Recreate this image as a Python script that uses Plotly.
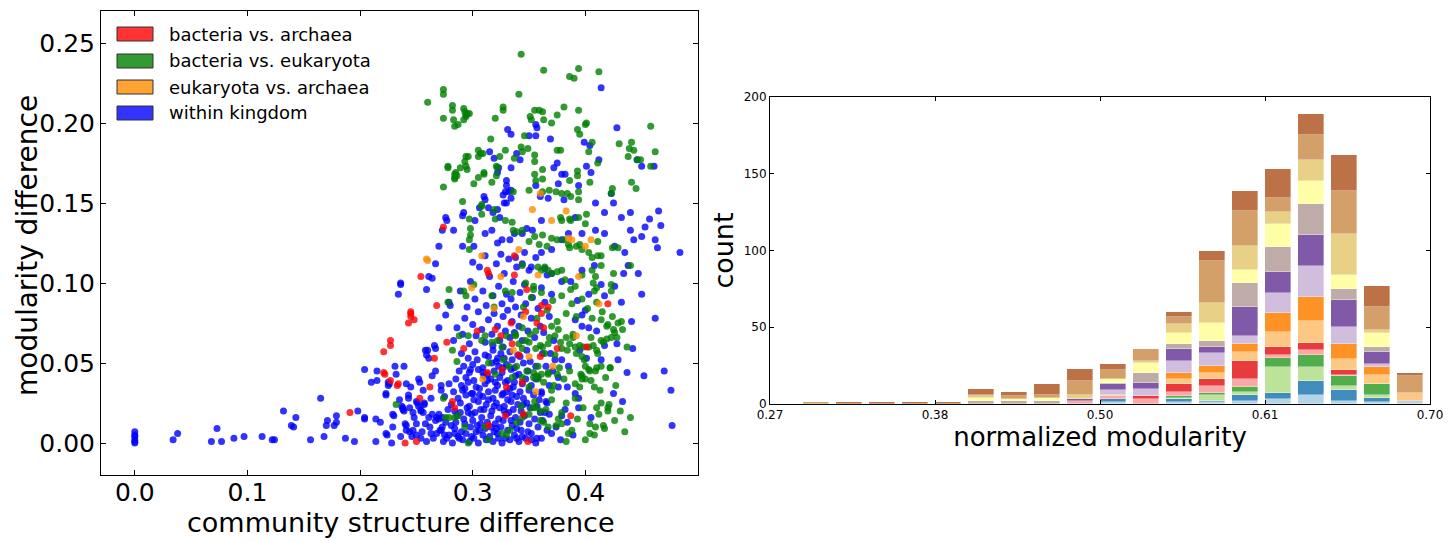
import plotly.graph_objects as go

W, H = 1453, 541

# ---------------- left panel: points (community structure diff, modularity diff)
bact_arch = [
    (0.191, 0.019), (0.221, 0.057), (0.221, 0.044), (0.222, 0.043), (0.227, 0.064), (0.227, 0.061),
    (0.227, 0.039), (0.234, 0.037), (0.233, 0.036), (0.240, 0.000), (0.243, 0.075), (0.245, 0.081),
    (0.245, 0.082), (0.245, 0.079), (0.248, 0.077), (0.254, 0.104), (0.253, 0.028), (0.250, 0.001),
    (0.262, 0.035), (0.268, 0.086), (0.266, 0.053), (0.274, 0.135), (0.337, 0.117), (0.387, 0.017),
    (0.420, 0.087), (0.313, 0.108), (0.314, 0.106), (0.337, 0.105), (0.348, 0.096), (0.361, 0.086),
    (0.367, 0.085), (0.363, 0.072), (0.361, 0.081), (0.334, 0.075), (0.320, 0.071), (0.304, 0.070),
    (0.277, 0.063), (0.292, 0.059), (0.325, 0.067), (0.347, 0.082), (0.360, 0.054), (0.341, 0.055),
    (0.335, 0.062), (0.326, 0.046), (0.344, 0.038), (0.313, 0.044), (0.282, 0.026), (0.284, 0.022),
    (0.314, 0.011), (0.329, 0.017), (0.345, 0.018), (0.349, 0.001), (0.330, 0.035), (0.375, 0.059),
    (0.401, 0.060), (0.357, 0.075),
]

bact_euk = [
    (0.260, 0.213), (0.274, 0.221), (0.274, 0.218), (0.274, 0.203), (0.282, 0.211), (0.282, 0.208),
    (0.283, 0.202), (0.284, 0.198), (0.287, 0.199), (0.292, 0.209), (0.293, 0.207), (0.294, 0.205),
    (0.295, 0.206), (0.297, 0.206), (0.292, 0.202), (0.294, 0.204), (0.316, 0.190), (0.320, 0.203),
    (0.327, 0.210), (0.327, 0.208), (0.343, 0.243), (0.341, 0.218), (0.363, 0.233), (0.386, 0.229),
    (0.390, 0.228), (0.394, 0.234), (0.412, 0.232), (0.355, 0.208), (0.359, 0.208), (0.362, 0.207),
    (0.351, 0.204), (0.352, 0.202), (0.363, 0.202), (0.375, 0.205), (0.381, 0.210), (0.394, 0.208),
    (0.370, 0.200), (0.346, 0.192), (0.343, 0.185), (0.344, 0.182), (0.349, 0.184), (0.393, 0.196),
    (0.395, 0.193), (0.400, 0.199), (0.401, 0.200), (0.406, 0.188), (0.403, 0.182), (0.378, 0.183),
    (0.375, 0.183), (0.355, 0.180), (0.355, 0.176), (0.458, 0.198), (0.430, 0.187), (0.441, 0.188),
    (0.439, 0.184), (0.443, 0.183), (0.438, 0.179), (0.462, 0.182), (0.458, 0.173), (0.446, 0.177),
    (0.449, 0.177), (0.411, 0.175),
    (0.294, 0.179), (0.295, 0.171), (0.293, 0.176), (0.294, 0.173), (0.296, 0.179), (0.289, 0.172),
    (0.305, 0.183), (0.305, 0.179), (0.307, 0.181), (0.309, 0.181), (0.278, 0.173), (0.278, 0.172),
    (0.284, 0.168), (0.284, 0.166), (0.285, 0.169), (0.284, 0.165), (0.286, 0.167), (0.301, 0.162),
    (0.305, 0.166), (0.310, 0.169), (0.310, 0.168), (0.321, 0.173), (0.321, 0.167), (0.322, 0.172),
    (0.324, 0.179), (0.337, 0.178), (0.329, 0.183), (0.355, 0.168), (0.356, 0.164), (0.362, 0.171),
    (0.362, 0.165), (0.393, 0.170), (0.393, 0.167), (0.386, 0.164), (0.404, 0.163),
    (0.297, 0.140), (0.298, 0.134), (0.298, 0.130), (0.297, 0.127), (0.297, 0.121), (0.308, 0.148),
    (0.308, 0.143), (0.319, 0.146), (0.320, 0.140), (0.329, 0.139), (0.335, 0.138), (0.336, 0.133),
    (0.339, 0.132), (0.344, 0.133), (0.350, 0.126), (0.355, 0.129), (0.359, 0.124), (0.362, 0.130),
    (0.366, 0.123), (0.370, 0.128), (0.375, 0.127), (0.381, 0.127), (0.385, 0.124), (0.386, 0.122),
    (0.392, 0.123), (0.395, 0.124), (0.397, 0.121), (0.403, 0.119), (0.411, 0.117), (0.411, 0.126),
    (0.406, 0.116), (0.414, 0.117), (0.424, 0.122), (0.429, 0.122), (0.378, 0.141), (0.379, 0.139),
    (0.386, 0.140), (0.387, 0.139), (0.394, 0.141), (0.400, 0.137), (0.401, 0.143), (0.441, 0.163),
    (0.445, 0.159), (0.424, 0.159), (0.423, 0.156), (0.362, 0.157), (0.368, 0.158), (0.374, 0.157),
    (0.379, 0.156), (0.384, 0.156), (0.387, 0.154), (0.394, 0.152), (0.394, 0.157), (0.274, 0.160),
    (0.291, 0.151), (0.317, 0.163), (0.308, 0.149), (0.350, 0.158), (0.336, 0.157),
    (0.279, 0.096), (0.278, 0.088), (0.292, 0.095), (0.294, 0.092), (0.301, 0.099), (0.317, 0.092),
    (0.319, 0.085), (0.329, 0.095), (0.335, 0.094), (0.344, 0.111), (0.347, 0.100), (0.354, 0.098),
    (0.354, 0.096), (0.358, 0.110), (0.361, 0.108), (0.364, 0.110), (0.367, 0.108), (0.370, 0.106),
    (0.375, 0.107), (0.379, 0.108), (0.382, 0.102), (0.387, 0.096), (0.391, 0.098), (0.397, 0.105),
    (0.406, 0.108), (0.409, 0.104), (0.410, 0.097), (0.414, 0.111), (0.407, 0.100), (0.408, 0.095),
    (0.425, 0.106), (0.423, 0.099), (0.423, 0.095), (0.440, 0.111),
    (0.282, 0.058), (0.286, 0.051), (0.288, 0.067), (0.296, 0.067), (0.308, 0.064), (0.311, 0.067),
    (0.317, 0.063), (0.322, 0.064), (0.326, 0.060), (0.330, 0.067), (0.338, 0.067), (0.341, 0.062),
    (0.344, 0.059), (0.347, 0.064), (0.351, 0.068), (0.356, 0.059), (0.360, 0.061), (0.364, 0.056),
    (0.367, 0.062), (0.370, 0.073), (0.373, 0.067), (0.376, 0.071), (0.379, 0.059), (0.383, 0.066),
    (0.386, 0.062), (0.389, 0.066), (0.391, 0.060), (0.392, 0.056), (0.397, 0.054), (0.398, 0.060),
    (0.403, 0.060), (0.407, 0.061), (0.410, 0.058), (0.414, 0.064), (0.419, 0.065), (0.423, 0.066),
    (0.426, 0.069), (0.420, 0.074), (0.425, 0.071), (0.429, 0.075), (0.432, 0.076), (0.414, 0.077),
    (0.410, 0.047), (0.414, 0.048), (0.422, 0.047), (0.404, 0.045), (0.397, 0.042), (0.400, 0.040),
    (0.403, 0.046), (0.395, 0.035), (0.391, 0.028), (0.397, 0.040), (0.408, 0.035), (0.410, 0.022),
    (0.414, 0.025), (0.420, 0.022), (0.420, 0.020), (0.416, 0.011), (0.409, 0.010), (0.404, 0.006),
    (0.400, 0.002), (0.383, 0.001), (0.385, 0.006), (0.376, 0.015), (0.379, 0.012), (0.367, 0.010),
    (0.363, 0.013), (0.360, 0.020), (0.356, 0.022), (0.353, 0.022), (0.344, 0.016), (0.339, 0.013),
    (0.333, 0.008), (0.330, 0.005), (0.326, 0.006), (0.314, 0.002), (0.311, 0.010), (0.296, 0.000),
    (0.293, 0.010), (0.287, 0.017), (0.284, 0.016), (0.279, 0.016), (0.276, 0.016), (0.274, 0.028),
    (0.232, 0.024),
    (0.314, 0.050), (0.320, 0.043), (0.327, 0.052), (0.332, 0.048), (0.335, 0.041), (0.339, 0.048),
    (0.344, 0.041), (0.350, 0.035), (0.354, 0.044), (0.357, 0.042), (0.358, 0.040), (0.361, 0.043),
    (0.367, 0.043), (0.370, 0.033), (0.375, 0.043),
    (0.345, 0.085), (0.352, 0.091), (0.357, 0.078), (0.361, 0.094), (0.366, 0.083), (0.371, 0.089),
    (0.375, 0.076), (0.379, 0.092), (0.383, 0.081), (0.388, 0.087), (0.392, 0.079), (0.397, 0.090),
    (0.402, 0.084), (0.406, 0.078), (0.410, 0.088), (0.415, 0.082), (0.419, 0.073), (0.424, 0.079),
    (0.428, 0.066), (0.433, 0.071), (0.437, 0.060),
    (0.348, 0.045), (0.354, 0.041), (0.358, 0.048), (0.363, 0.038), (0.367, 0.044), (0.372, 0.036),
    (0.377, 0.047), (0.381, 0.040), (0.386, 0.045), (0.391, 0.037), (0.396, 0.043), (0.400, 0.048),
    (0.405, 0.039), (0.409, 0.045), (0.413, 0.033), (0.418, 0.041), (0.422, 0.047), (0.427, 0.036),
    (0.343, 0.023), (0.350, 0.018), (0.355, 0.026), (0.360, 0.014), (0.365, 0.021), (0.370, 0.027),
    (0.374, 0.011), (0.379, 0.019), (0.383, 0.025), (0.388, 0.008), (0.393, 0.015), (0.398, 0.022),
    (0.404, 0.012), (0.408, 0.005), (0.412, 0.018), (0.417, 0.009), (0.421, 0.024), (0.426, 0.014),
    (0.431, 0.020), (0.435, 0.007), (0.440, 0.016),
    (0.338, 0.068), (0.344, 0.072), (0.350, 0.063), (0.356, 0.070), (0.362, 0.060), (0.368, 0.066),
    (0.373, 0.055), (0.378, 0.063), (0.384, 0.058), (0.389, 0.068), (0.395, 0.061), (0.399, 0.052),
    (0.405, 0.066), (0.411, 0.056), (0.416, 0.063),
]

euk_arch = [
    (0.259, 0.115), (0.260, 0.114), (0.360, 0.156), (0.353, 0.146), (0.370, 0.139), (0.383, 0.145),
    (0.385, 0.128), (0.388, 0.127), (0.405, 0.127), (0.400, 0.123), (0.308, 0.117), (0.341, 0.121),
    (0.325, 0.104), (0.358, 0.105), (0.394, 0.104), (0.412, 0.087), (0.299, 0.097), (0.350, 0.054),
    (0.336, 0.058), (0.309, 0.040), (0.371, 0.048), (0.356, 0.032), (0.319, 0.084), (0.392, 0.067),
    (0.345, 0.079),
]

within = [
    # sparse tail
    (0.000, 0.007), (0.000, 0.005), (0.000, 0.004), (0.000, 0.002), (0.000, 0.001), (0.000, 0.000),
    (0.034, 0.002), (0.038, 0.006), (0.068, 0.001), (0.073, 0.009), (0.077, 0.001), (0.088, 0.003),
    (0.097, 0.004), (0.113, 0.004), (0.122, 0.002), (0.124, 0.002), (0.132, 0.020), (0.139, 0.011),
    (0.141, 0.010), (0.143, 0.016), (0.156, 0.002), (0.165, 0.028), (0.168, 0.004), (0.170, 0.011),
    (0.171, 0.014), (0.177, 0.011), (0.179, 0.017), (0.179, 0.013), (0.187, 0.003), (0.195, 0.001),
    (0.198, 0.020), (0.204, 0.016), (0.204, 0.015), (0.204, 0.046), (0.210, 0.038), (0.215, 0.045),
    (0.215, 0.039), (0.214, 0.015), (0.218, 0.013), (0.214, 0.001),
    # rising edge
    (0.223, 0.031), (0.223, 0.030), (0.223, 0.006), (0.224, 0.005), (0.225, 0.038), (0.226, 0.037),
    (0.225, 0.036), (0.228, 0.000), (0.229, 0.018), (0.230, 0.017), (0.229, 0.010), (0.231, 0.048),
    (0.232, 0.043), (0.234, 0.093), (0.236, 0.100), (0.236, 0.099), (0.239, 0.048), (0.237, 0.023),
    (0.238, 0.021), (0.239, 0.020), (0.241, 0.037), (0.241, 0.011), (0.241, 0.008), (0.243, 0.028),
    (0.245, 0.035), (0.252, 0.040), (0.253, 0.038), (0.252, 0.023), (0.254, 0.021), (0.256, 0.019),
    (0.257, 0.025), (0.250, 0.012), (0.246, 0.004), (0.248, 0.016), (0.259, 0.096), (0.261, 0.104),
    (0.264, 0.103), (0.258, 0.058), (0.260, 0.058), (0.267, 0.059), (0.259, 0.055), (0.261, 0.053),
    (0.266, 0.061), (0.270, 0.072), (0.272, 0.036), (0.272, 0.033), (0.262, 0.010), (0.265, 0.003),
    (0.259, 0.001), (0.268, 0.016), (0.263, 0.028), (0.255, 0.007), (0.267, 0.045), (0.264, 0.042),
    (0.256, 0.033),
    (0.235, 0.027), (0.238, 0.022), (0.243, 0.030), (0.244, 0.022), (0.247, 0.019), (0.250, 0.026),
    (0.251, 0.025), (0.254, 0.020), (0.257, 0.024), (0.258, 0.012), (0.261, 0.016), (0.264, 0.018),
    (0.267, 0.014), (0.270, 0.018), (0.270, 0.015), (0.273, 0.010), (0.275, 0.005), (0.272, 0.008),
    (0.268, 0.006), (0.263, 0.006), (0.254, 0.003), (0.250, 0.005), (0.247, 0.008), (0.244, 0.007),
    (0.240, 0.012), (0.236, 0.004),
    # dense core
    (0.274, 0.001), (0.282, 0.000), (0.291, 0.002), (0.297, 0.001), (0.305, 0.000), (0.312, 0.002),
    (0.318, 0.001), (0.326, 0.000), (0.333, 0.002), (0.341, 0.001), (0.347, 0.003), (0.356, 0.000),
    (0.279, 0.005), (0.287, 0.004), (0.294, 0.006), (0.301, 0.003), (0.309, 0.005), (0.315, 0.004),
    (0.322, 0.006), (0.329, 0.003), (0.337, 0.005), (0.344, 0.004), (0.352, 0.006), (0.361, 0.003),
    (0.271, 0.008), (0.284, 0.009), (0.290, 0.007), (0.298, 0.010), (0.306, 0.008), (0.311, 0.009),
    (0.319, 0.007), (0.325, 0.010), (0.331, 0.008), (0.339, 0.009), (0.349, 0.007), (0.358, 0.010),
    (0.366, 0.008),
    (0.276, 0.013), (0.281, 0.011), (0.293, 0.012), (0.300, 0.014), (0.304, 0.011), (0.313, 0.013),
    (0.320, 0.012), (0.327, 0.014), (0.335, 0.011), (0.342, 0.013), (0.350, 0.012), (0.362, 0.014),
    (0.273, 0.016), (0.286, 0.017), (0.292, 0.015), (0.299, 0.018), (0.308, 0.016), (0.316, 0.017),
    (0.323, 0.015), (0.330, 0.018), (0.338, 0.016), (0.346, 0.017), (0.355, 0.015), (0.368, 0.018),
    (0.278, 0.021), (0.284, 0.020), (0.295, 0.022), (0.302, 0.019), (0.310, 0.021), (0.317, 0.020),
    (0.324, 0.022), (0.332, 0.019), (0.336, 0.021), (0.343, 0.020), (0.351, 0.022), (0.360, 0.019),
    (0.281, 0.024), (0.289, 0.025), (0.297, 0.023), (0.305, 0.026), (0.312, 0.024), (0.321, 0.025),
    (0.328, 0.023), (0.334, 0.026), (0.340, 0.024), (0.348, 0.025), (0.357, 0.023), (0.365, 0.026),
    (0.275, 0.029), (0.287, 0.028), (0.294, 0.030), (0.301, 0.027), (0.309, 0.029), (0.318, 0.028),
    (0.326, 0.030), (0.331, 0.027), (0.339, 0.029), (0.345, 0.028), (0.354, 0.030),
    (0.283, 0.032), (0.291, 0.033), (0.299, 0.031), (0.306, 0.034), (0.314, 0.032), (0.320, 0.033),
    (0.327, 0.031), (0.333, 0.034), (0.342, 0.032), (0.350, 0.033), (0.361, 0.031),
    (0.279, 0.037), (0.290, 0.036), (0.296, 0.038), (0.303, 0.035), (0.311, 0.037), (0.322, 0.036),
    (0.329, 0.038), (0.336, 0.035), (0.344, 0.037), (0.352, 0.036),
    (0.285, 0.040), (0.294, 0.041), (0.301, 0.039), (0.310, 0.042), (0.316, 0.040), (0.324, 0.041),
    (0.331, 0.039), (0.338, 0.042), (0.347, 0.040), (0.358, 0.041),
    (0.288, 0.045), (0.297, 0.044), (0.305, 0.046), (0.313, 0.043), (0.319, 0.045), (0.326, 0.044),
    (0.334, 0.046), (0.341, 0.043), (0.349, 0.045),
    (0.292, 0.048), (0.300, 0.049), (0.309, 0.047), (0.317, 0.050), (0.323, 0.048), (0.330, 0.049),
    (0.337, 0.047), (0.345, 0.050), (0.356, 0.048),
    (0.296, 0.053), (0.304, 0.052), (0.314, 0.054), (0.321, 0.051), (0.328, 0.053), (0.335, 0.052),
    (0.342, 0.054), (0.351, 0.051),
    (0.290, 0.056), (0.302, 0.057), (0.311, 0.055), (0.318, 0.058), (0.325, 0.056), (0.333, 0.057),
    (0.340, 0.055), (0.348, 0.058), (0.362, 0.056),
    (0.288, 0.003), (0.303, 0.007), (0.316, 0.010), (0.323, 0.003), (0.328, 0.020), (0.314, 0.027),
    (0.307, 0.021), (0.296, 0.019), (0.300, 0.031), (0.320, 0.038), (0.335, 0.030), (0.339, 0.003),
    (0.285, 0.013), (0.309, 0.044), (0.327, 0.047),
    (0.277, 0.003), (0.284, 0.006), (0.299, 0.004), (0.307, 0.012), (0.321, 0.009), (0.334, 0.014),
    (0.343, 0.008), (0.352, 0.002), (0.289, 0.019), (0.306, 0.030), (0.319, 0.023), (0.330, 0.032),
    (0.345, 0.024), (0.293, 0.034), (0.313, 0.039), (0.337, 0.038), (0.298, 0.046), (0.322, 0.053),
    # above the core
    (0.276, 0.080), (0.279, 0.088), (0.280, 0.086), (0.283, 0.064), (0.286, 0.072), (0.289, 0.095),
    (0.291, 0.068), (0.293, 0.078), (0.295, 0.085), (0.297, 0.062), (0.298, 0.101), (0.300, 0.074),
    (0.302, 0.090), (0.303, 0.067), (0.305, 0.082), (0.306, 0.110), (0.308, 0.071), (0.309, 0.095),
    (0.311, 0.063), (0.312, 0.086), (0.314, 0.077), (0.315, 0.104), (0.317, 0.068), (0.318, 0.092),
    (0.319, 0.081), (0.321, 0.112), (0.322, 0.073), (0.323, 0.098), (0.324, 0.064), (0.326, 0.087),
    (0.327, 0.079), (0.328, 0.106), (0.329, 0.070), (0.330, 0.093), (0.331, 0.083), (0.332, 0.115),
    (0.333, 0.066), (0.334, 0.090), (0.335, 0.076), (0.336, 0.101), (0.337, 0.069), (0.338, 0.085),
    (0.339, 0.110), (0.341, 0.073), (0.342, 0.094), (0.343, 0.080), (0.344, 0.064), (0.346, 0.099),
    (0.347, 0.087), (0.349, 0.070), (0.350, 0.108), (0.352, 0.078), (0.353, 0.091), (0.355, 0.066),
    (0.356, 0.116), (0.358, 0.084), (0.360, 0.073), (0.361, 0.097), (0.363, 0.069), (0.364, 0.088),
    (0.366, 0.105), (0.368, 0.079), (0.370, 0.093), (0.372, 0.064), (0.325, 0.118), (0.311, 0.117),
    (0.300, 0.113), (0.346, 0.119), (0.318, 0.061), (0.327, 0.060),
    # upper spread
    (0.350, 0.192), (0.356, 0.199), (0.357, 0.197), (0.356, 0.192), (0.369, 0.190), (0.323, 0.172),
    (0.322, 0.169), (0.334, 0.172), (0.330, 0.164), (0.330, 0.161), (0.329, 0.157), (0.327, 0.155),
    (0.332, 0.157), (0.334, 0.158), (0.334, 0.153), (0.328, 0.150), (0.330, 0.150), (0.322, 0.146),
    (0.324, 0.141), (0.318, 0.144), (0.314, 0.147), (0.310, 0.154), (0.311, 0.152), (0.306, 0.147),
    (0.302, 0.139), (0.292, 0.144), (0.291, 0.142), (0.276, 0.141), (0.277, 0.139), (0.273, 0.133),
    (0.270, 0.123), (0.267, 0.112), (0.283, 0.133), (0.291, 0.123), (0.301, 0.123), (0.311, 0.131),
    (0.317, 0.133), (0.322, 0.125), (0.326, 0.127), (0.333, 0.127), (0.337, 0.131), (0.344, 0.131),
    (0.348, 0.134), (0.353, 0.133), (0.356, 0.161), (0.360, 0.154), (0.361, 0.139), (0.367, 0.153),
    (0.372, 0.172), (0.375, 0.175), (0.379, 0.168), (0.382, 0.168), (0.376, 0.162), (0.381, 0.152),
    (0.394, 0.161), (0.401, 0.173), (0.399, 0.188), (0.404, 0.186), (0.405, 0.169), (0.412, 0.177),
    (0.414, 0.222), (0.423, 0.156), (0.425, 0.150), (0.432, 0.141), (0.440, 0.144), (0.440, 0.133),
    (0.443, 0.127), (0.450, 0.129), (0.453, 0.135), (0.457, 0.140), (0.465, 0.145), (0.467, 0.136),
    (0.462, 0.127), (0.464, 0.122), (0.450, 0.173), (0.461, 0.173), (0.446, 0.177), (0.428, 0.197),
    (0.409, 0.150), (0.417, 0.144), (0.409, 0.133), (0.417, 0.131), (0.426, 0.123), (0.435, 0.119),
    (0.391, 0.141), (0.397, 0.131), (0.385, 0.131), (0.379, 0.127), (0.370, 0.121), (0.361, 0.119),
    (0.352, 0.110), (0.344, 0.112), (0.338, 0.116), (0.484, 0.119), (0.331, 0.196), (0.334, 0.193),
    (0.339, 0.181), (0.342, 0.177), (0.315, 0.182), (0.319, 0.178),
    # right side
    (0.470, 0.045), (0.476, 0.033), (0.477, 0.011), (0.462, 0.078), (0.450, 0.093), (0.442, 0.059),
    (0.441, 0.076), (0.433, 0.026), (0.432, 0.088), (0.417, 0.061), (0.414, 0.052), (0.428, 0.062),
    (0.410, 0.070), (0.403, 0.072), (0.397, 0.073), (0.395, 0.058), (0.401, 0.053), (0.394, 0.028),
    (0.394, 0.022), (0.391, 0.031), (0.384, 0.035), (0.376, 0.041), (0.376, 0.035), (0.379, 0.017),
    (0.382, 0.021), (0.378, 0.002), (0.374, 0.010), (0.370, 0.006), (0.364, 0.019), (0.366, 0.025),
    (0.361, 0.032), (0.368, 0.036), (0.371, 0.045), (0.373, 0.052), (0.379, 0.052), (0.385, 0.048),
    (0.391, 0.077), (0.397, 0.080), (0.400, 0.083), (0.393, 0.089), (0.403, 0.093), (0.414, 0.099),
    (0.417, 0.092), (0.426, 0.098), (0.434, 0.106), (0.438, 0.111), (0.447, 0.106), (0.408, 0.111),
    (0.397, 0.108), (0.387, 0.101), (0.379, 0.101), (0.370, 0.106), (0.364, 0.109), (0.452, 0.042),
    (0.437, 0.044), (0.425, 0.031), (0.429, 0.052), (0.405, 0.016), (0.389, 0.005), (0.384, 0.013),
    (0.357, 0.003), (0.365, 0.048), (0.369, 0.056), (0.356, 0.040), (0.359, 0.027),
]

pair_names = ["bacteria vs. archaea", "bacteria vs. eukaryota",
              "eukaryota vs. archaea", "within kingdom"]
pair_colors = ["#ff0000", "#008000", "#ff8c00", "#0000ff"]

# ---------------- right panel: stacked histogram of normalized modularity
bin_pos = list(range(20))
bin_tickpos = [0, 5, 10, 15, 20]
bin_ticktext = ["0.27", "0.38", "0.50", "0.61", "0.70"]

# one list per colour band, bottom to top of the stack
band_light_blue = [0, 0, 0, 0, 0, 0, 0, 0, 0, 0, 1, 0, 1, 1, 2, 3, 6, 2, 1, 2]
band_blue = [0, 0, 0, 0, 0, 0, 0, 0, 0, 0, 2, 0, 2, 1, 4, 4, 9, 7, 3, 0]
band_light_green = [0, 0, 0, 0, 0, 0, 0, 0, 0, 0, 0, 0, 1, 4, 2, 17, 9, 3, 2, 0]
band_green = [0, 0, 0, 0, 0, 0, 0, 0, 0, 0, 0, 0, 1, 1, 3, 6, 8, 6, 7, 0]
band_pink = [0, 0, 0, 0, 0, 0, 0, 0, 0, 2, 2, 3, 3, 5, 5, 2, 3, 1, 0, 0]
band_red = [0, 0, 0, 0, 0, 0, 0, 0, 0, 0, 0, 2, 5, 4, 12, 5, 5, 3, 0, 0]
band_light_orange = [0, 0, 0, 0, 0, 0, 0, 0, 0, 0, 1, 0, 3, 4, 6, 10, 14, 7, 6, 5]
band_orange = [0, 0, 0, 0, 0, 0, 0, 0, 0, 0, 0, 0, 4, 5, 5, 12, 16, 10, 5, 0]
band_lavender = [0, 0, 0, 0, 0, 0, 0, 0, 0, 0, 3, 5, 8, 8, 5, 13, 20, 11, 2, 0]
band_purple = [0, 0, 0, 0, 0, 0, 0, 0, 0, 1, 4, 4, 8, 4, 19, 14, 20, 18, 8, 0]
band_mauve = [0, 0, 0, 0, 0, 0, 2, 2, 2, 0, 1, 6, 3, 4, 16, 16, 20, 7, 3, 0]
band_yellow = [0, 0, 0, 0, 0, 0, 2, 1, 2, 0, 2, 7, 7, 12, 8, 15, 15, 9, 9, 0]
band_gold = [0, 0, 0, 0, 0, 0, 1, 0, 0, 3, 0, 1, 6, 13, 16, 8, 14, 27, 2, 0]
band_tan = [0, 1, 0, 0, 0, 0, 1, 2, 2, 9, 6, 8, 5, 27, 23, 9, 16, 28, 15, 11]
band_brown = [0, 0, 1, 1, 1, 1, 4, 3, 7, 8, 4, 0, 3, 7, 13, 19, 14, 23, 14, 2]

bands = [band_light_blue, band_blue, band_light_green, band_green, band_pink, band_red,
         band_light_orange, band_orange, band_lavender, band_purple, band_mauve,
         band_yellow, band_gold, band_tan, band_brown]
band_colors = ["#a6cee3", "#1f78b4", "#b2df8a", "#33a02c", "#fb9a99", "#e31a1c",
               "#fdbf6f", "#ff7f00", "#cab2d6", "#6a3d9a", "#b49e99",
               "#ffff99", "#e5c873", "#cb904e", "#b15928"]

FONT = "DejaVu Sans"

fig = go.Figure()

# scatter, blue first so the between-kingdom pairs sit on top
for idx in [3, 1, 0, 2]:
    pts = [bact_arch, bact_euk, euk_arch, within][idx]
    fig.add_trace(go.Scatter(
        x=[p[0] for p in pts], y=[p[1] for p in pts],
        mode="markers", name=pair_names[idx], showlegend=False,
        marker=dict(size=7, color=pair_colors[idx], opacity=0.8, line=dict(width=0)),
        xaxis="x", yaxis="y",
    ))

for counts, col in zip(bands, band_colors):
    fig.add_trace(go.Bar(
        x=bin_pos, y=[c if c else None for c in counts],
        offset=0, width=0.8, opacity=0.85, showlegend=False,
        marker=dict(color=col, line=dict(color="rgba(255,255,255,0.45)", width=0.8)),
        xaxis="x2", yaxis="y2",
    ))

axis_common = dict(showline=True, linecolor="black", linewidth=1, mirror="ticks",
                   ticks="inside", tickcolor="black", showgrid=False, zeroline=False,
                   automargin=False)

fig.update_layout(
    template="none",
    width=W, height=H,
    margin=dict(l=0, r=0, t=0, b=0),
    paper_bgcolor="white", plot_bgcolor="white",
    barmode="stack", bargap=0,
    font=dict(family=FONT, color="black"),
    xaxis=dict(axis_common, domain=[101 / W, 698 / W], range=[-0.03, 0.5], anchor="y",
               tickvals=[0, 0.1, 0.2, 0.3, 0.4], tickformat=".1f", ticklen=5,
               tickfont=dict(size=25), ticklabelstandoff=-5),
    yaxis=dict(axis_common, domain=[1 - 475 / H, 1 - 11 / H], range=[-0.02, 0.27], anchor="x",
               tickvals=[0, 0.05, 0.1, 0.15, 0.2, 0.25], tickformat=".2f", ticklen=5,
               tickfont=dict(size=25)),
    xaxis2=dict(axis_common, domain=[770 / W, 1430 / W], range=[0, 20], anchor="y2",
                tickvals=bin_tickpos, ticktext=bin_ticktext, ticklen=4,
                tickfont=dict(size=12),
                title=dict(text="normalized modularity", font=dict(size=26), standoff=2)),
    yaxis2=dict(axis_common, domain=[1 - 404 / H, 1 - 97 / H], range=[0, 200], anchor="x2",
                tickvals=[0, 50, 100, 150, 200], ticklen=4,
                tickfont=dict(size=12),
                title=dict(text="count", font=dict(size=27), standoff=2)),
)

# axis titles of the scatter panel, placed like the original
fig.add_annotation(xref="paper", yref="paper", x=401 / W, y=1 - 522 / H,
                   xanchor="center", yanchor="middle", showarrow=False,
                   text="community structure difference", font=dict(size=27))
fig.add_annotation(xref="paper", yref="paper", x=27 / W, y=1 - 246 / H,
                   xanchor="center", yanchor="middle", showarrow=False, textangle=-90,
                   text="modularity difference", font=dict(size=28))

# legend drawn as boxes + labels in the top-left of the scatter panel
legend_rows = [34, 61, 87, 113]
legend_fill = ["#ff3333", "#339933", "#ffa333", "#3333ff"]
for cy, name, fill in zip(legend_rows, pair_names, legend_fill):
    fig.add_shape(type="rect", xref="paper", yref="paper",
                  x0=117 / W, x1=153 / W, y0=1 - (cy + 7) / H, y1=1 - (cy - 7) / H,
                  fillcolor=fill, line=dict(color="#333333", width=1))
    fig.add_annotation(xref="paper", yref="paper", x=167 / W, y=1 - cy / H,
                       xanchor="left", yanchor="middle", showarrow=False,
                       text=name, font=dict(size=18, family=FONT, color="black"))

fig.write_html("out.html", config={"displayModeBar": False},
               post_script="document.body.style.margin='0';")
